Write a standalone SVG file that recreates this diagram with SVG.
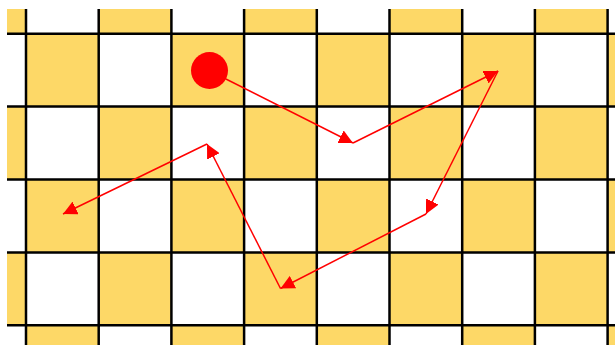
<svg xmlns="http://www.w3.org/2000/svg" width="615" height="345" viewBox="0 0 615 345">
<style>
.y{fill:#fdd867}
.g{stroke:#000;stroke-width:2.5;fill:none}
.c{stroke:#ff0000;stroke-width:1.5;fill:none}
</style>
<defs>
<marker id="ah" markerUnits="userSpaceOnUse" markerWidth="14" markerHeight="14" refX="14" refY="7" orient="auto">
<path d="M0,0 L14,7 L0,14 z" fill="#ff0000"/>
</marker>
</defs>
<rect x="0" y="0" width="615" height="345" fill="#ffffff"/>
<g id="board">
<g id="cells">
<rect class="y" x="7" y="9" width="19" height="24.7"/>
<rect class="y" x="98.7" y="9" width="72.7" height="24.7"/>
<rect class="y" x="244.1" y="9" width="72.7" height="24.7"/>
<rect class="y" x="389.5" y="9" width="72.7" height="24.7"/>
<rect class="y" x="534.9" y="9" width="72.7" height="24.7"/>

<rect class="y" x="26" y="33.7" width="72.7" height="72.9"/>
<rect class="y" x="171.4" y="33.7" width="72.7" height="72.9"/>
<rect class="y" x="316.8" y="33.7" width="72.7" height="72.9"/>
<rect class="y" x="462.2" y="33.7" width="72.7" height="72.9"/>
<rect class="y" x="607.6" y="33.7" width="7.4" height="72.9"/>

<rect class="y" x="7" y="106.6" width="19" height="72.9"/>
<rect class="y" x="98.7" y="106.6" width="72.7" height="72.9"/>
<rect class="y" x="244.1" y="106.6" width="72.7" height="72.9"/>
<rect class="y" x="389.5" y="106.6" width="72.7" height="72.9"/>
<rect class="y" x="534.9" y="106.6" width="72.7" height="72.9"/>

<rect class="y" x="26" y="179.5" width="72.7" height="72.9"/>
<rect class="y" x="171.4" y="179.5" width="72.7" height="72.9"/>
<rect class="y" x="316.8" y="179.5" width="72.7" height="72.9"/>
<rect class="y" x="462.2" y="179.5" width="72.7" height="72.9"/>
<rect class="y" x="607.6" y="179.5" width="7.4" height="72.9"/>

<rect class="y" x="7" y="252.4" width="19" height="72.9"/>
<rect class="y" x="98.7" y="252.4" width="72.7" height="72.9"/>
<rect class="y" x="244.1" y="252.4" width="72.7" height="72.9"/>
<rect class="y" x="389.5" y="252.4" width="72.7" height="72.9"/>
<rect class="y" x="534.9" y="252.4" width="72.7" height="72.9"/>

<rect class="y" x="26" y="325.3" width="72.7" height="19.7"/>
<rect class="y" x="171.4" y="325.3" width="72.7" height="19.7"/>
<rect class="y" x="316.8" y="325.3" width="72.7" height="19.7"/>
<rect class="y" x="462.2" y="325.3" width="72.7" height="19.7"/>
<rect class="y" x="607.6" y="325.3" width="7.4" height="19.7"/>
</g>
<path class="g" d="M26,9V345 M98.7,9V345 M171.4,9V345 M244.1,9V345 M316.8,9V345 M389.5,9V345 M462.2,9V345 M534.9,9V345 M607.6,9V345 M7,33.7H615 M7,106.6H615 M7,179.5H615 M7,252.4H615 M7,325.3H615"/>
</g>
<g id="connectors">
<line class="c" x1="209" y1="70.5" x2="353" y2="143" marker-end="url(#ah)"/>
<line class="c" x1="353" y1="143" x2="498" y2="71" marker-end="url(#ah)"/>
<line class="c" x1="498" y1="71" x2="426" y2="214" marker-end="url(#ah)"/>
<line class="c" x1="426" y1="214" x2="280.5" y2="288.5" marker-end="url(#ah)"/>
<line class="c" x1="280.5" y1="288.5" x2="207" y2="144" marker-end="url(#ah)"/>
<line class="c" x1="207" y1="144" x2="63" y2="214" marker-end="url(#ah)"/>
</g>
<g id="token">
<circle cx="209.5" cy="70.5" r="18.5" fill="#ff0000"/>
</g>
</svg>
